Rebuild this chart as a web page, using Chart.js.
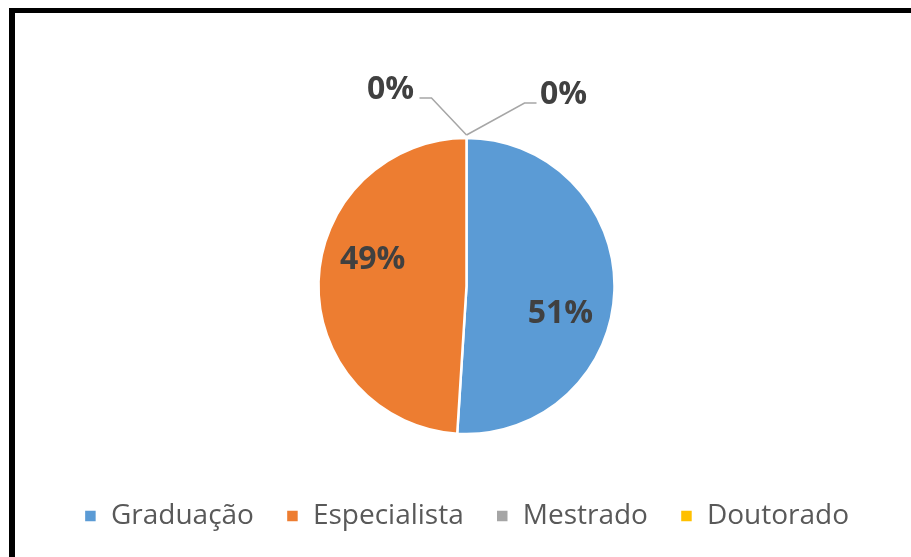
<!DOCTYPE html>
<html>
<head>
<meta charset="utf-8">
<script src="https://cdn.jsdelivr.net/npm/chart.js@4.4.1/dist/chart.umd.min.js"></script>
<style>
  html, body { margin: 0; padding: 0; background: #ffffff; }
  #wrap { position: relative; width: 911px; height: 557px; }
</style>
</head>
<body>
<div id="wrap"><canvas id="c" width="911" height="557"></canvas></div>
<script>
const categories = ['Graduação', 'Especialista', 'Mestrado', 'Doutorado'];
const shares = [51, 49, 0, 0];
const colors = ['#5B9BD5', '#ED7D31', '#A5A5A5', '#FFC000'];

const framePlugin = {
  id: 'frame',
  beforeDraw(chart) {
    const ctx = chart.ctx;
    ctx.save();
    ctx.fillStyle = '#ffffff';
    ctx.fillRect(0, 0, chart.width, chart.height);
    ctx.fillStyle = '#000000';
    ctx.fillRect(9, 8, 6, chart.height - 8);
    ctx.fillRect(9, 8, chart.width - 9, 5);
    ctx.restore();
  }
};

const labelPlugin = {
  id: 'pctLabels',
  afterDatasetsDraw(chart) {
    const ctx = chart.ctx;
    const meta = chart.getDatasetMeta(0);
    const data = chart.data.datasets[0].data;
    const total = data.reduce((a, b) => a + b, 0);
    let zeroCount = 0;
    ctx.save();
    ctx.font = 'bold 32px "Open Sans"';
    ctx.fillStyle = '#404040';
    ctx.textAlign = 'center';
    ctx.textBaseline = 'middle';
    meta.data.forEach((arc, i) => {
      const p = arc.getProps(['x', 'y', 'startAngle', 'endAngle', 'outerRadius'], true);
      const txt = Math.round(data[i] / total * 100) + '%';
      if (data[i] > 0) {
        const mid = (p.startAngle + p.endAngle) / 2 + 0.25;
        const r = p.outerRadius * 0.66;
        ctx.fillText(txt, p.x + Math.cos(mid) * r, p.y + Math.sin(mid) * r + 1);
      } else {
        const r0 = p.outerRadius + 3;
        const ax = p.x + Math.cos(p.startAngle) * r0;
        const ay = p.y + Math.sin(p.startAngle) * r0;
        const left = zeroCount === 0;
        zeroCount++;
        const ex = left ? -35 : 58, ey = left ? -37 : -32;
        const hx = left ? -47 : 70;
        ctx.strokeStyle = '#A6A6A6';
        ctx.lineWidth = 1.5;
        ctx.beginPath();
        ctx.moveTo(ax, ay);
        ctx.lineTo(ax + ex, ay + ey);
        ctx.lineTo(ax + hx, ay + ey);
        ctx.stroke();
        const lx = left ? -76 : 97, ly = left ? -45 : -40;
        ctx.fillText(txt, ax + lx, ay + ly);
      }
    });
    ctx.restore();
  }
};

new Chart(document.getElementById('c'), {
  type: 'pie',
  data: {
    labels: categories,
    datasets: [{
      data: shares,
      backgroundColor: colors,
      borderColor: '#ffffff',
      borderWidth: 2.5,
      radius: 148
    }]
  },
  options: {
    responsive: false,
    animation: false,
    layout: { padding: { left: 22, right: 0, top: 102, bottom: 17 } },
    plugins: {
      legend: {
        position: 'bottom',
        labels: {
          boxWidth: 13,
          boxHeight: 13,
          padding: 32,
          color: '#595959',
          font: { family: '"Open Sans"', size: 28 }
        }
      },
      tooltip: { enabled: false },
      title: { display: false }
    }
  },
  plugins: [framePlugin, labelPlugin]
});
</script>
</body>
</html>
